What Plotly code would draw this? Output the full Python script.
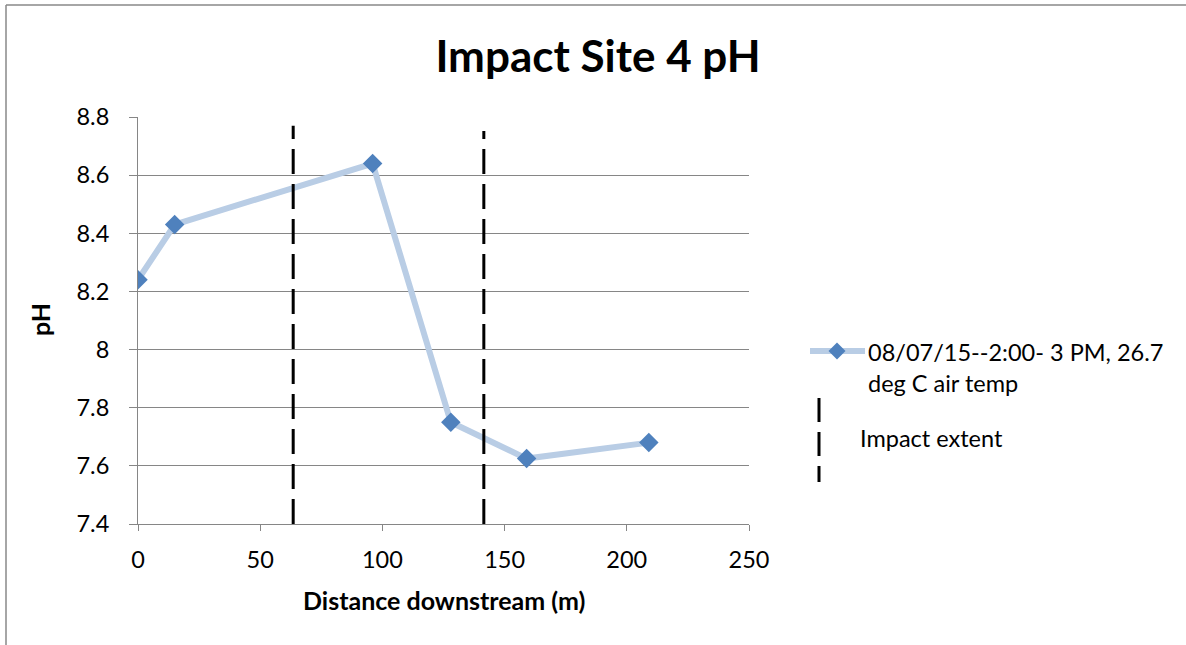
import plotly.graph_objects as go

# ---- data ----
distance_m = [0, 15, 96, 128, 159, 209]
ph_values = [8.24, 8.43, 8.64, 7.75, 7.625, 7.68]
series_name = "08/07/15--2:00- 3 PM, 26.7<br>deg C air temp"

impact_x = [63.5, 141.5]
impact_top = [8.77, 8.752]
impact_bottom = 7.4
impact_name = "Impact extent"

x_ticks = [0, 50, 100, 150, 200, 250]
y_ticks = [7.4, 7.6, 7.8, 8.0, 8.2, 8.4, 8.6, 8.8]
y_ticktext = ["7.4", "7.6", "7.8", "8", "8.2", "8.4", "8.6", "8.8"]

title_text = "Impact Site 4 pH"
x_title = "Distance downstream (m)"
y_title = "pH"

# ---- layout geometry (pixels) ----
W, H = 1186, 645
PL, PR, PT, PB = 138, 749, 117, 524
FONT = "Lato, 'Open Sans', 'DejaVu Sans', sans-serif"
GRID = "#868686"
LINE_BLUE = "#B9CDE5"
MARK_BLUE = "#4F81BD"
TXT = 23.5


def px(x):
    return x / W


def py(y):
    return 1 - y / H


fig = go.Figure()

fig.add_trace(go.Scatter(
    x=distance_m, y=ph_values, mode="lines+markers", name=series_name,
    line=dict(color=LINE_BLUE, width=6),
    marker=dict(symbol="diamond", size=15, color=MARK_BLUE,
                line=dict(width=0)),
    showlegend=False,
))

for xv, top in zip(impact_x, impact_top):
    fig.add_trace(go.Scatter(
        x=[xv, xv], y=[impact_bottom, top], mode="lines", name=impact_name,
        line=dict(color="black", width=3, dash="25px,10px"),
        showlegend=False, hoverinfo="skip",
    ))

shapes = []
# outer chart border (top and left visible)
shapes.append(dict(type="line", xref="paper", yref="paper",
                   x0=px(6), x1=px(W + 5), y0=py(5), y1=py(5),
                   line=dict(color="#888888", width=1.5)))
shapes.append(dict(type="line", xref="paper", yref="paper",
                   x0=px(6), x1=px(6), y0=py(5), y1=py(H + 5),
                   line=dict(color="#888888", width=1.5)))
# legend: series symbol
shapes.append(dict(type="line", xref="paper", yref="paper",
                   x0=px(810), x1=px(865), y0=py(351), y1=py(351),
                   line=dict(color=LINE_BLUE, width=6)))
d = 8.5
cx, cy = 837, 351
shapes.append(dict(type="path", xref="paper", yref="paper",
                   path=f"M {px(cx)} {py(cy - d)} L {px(cx + d)} {py(cy)} "
                        f"L {px(cx)} {py(cy + d)} L {px(cx - d)} {py(cy)} Z",
                   fillcolor=MARK_BLUE, line=dict(width=0)))
# legend: impact extent symbol
shapes.append(dict(type="line", xref="paper", yref="paper",
                   x0=px(819), x1=px(819), y0=py(398), y1=py(482),
                   line=dict(color="black", width=3, dash="24px,10px")))

annotations = [
    dict(text=series_name, xref="paper", yref="paper",
         x=px(866), y=py(367), xanchor="left", yanchor="middle",
         align="left", showarrow=False,
         font=dict(family=FONT, size=TXT, color="black")),
    dict(text=impact_name, xref="paper", yref="paper",
         x=px(858), y=py(438), xanchor="left", yanchor="middle",
         align="left", showarrow=False,
         font=dict(family=FONT, size=TXT, color="black")),
    dict(text=f"<b>{x_title}</b>", xref="paper", yref="paper",
         x=px(443.5), y=py(600), xanchor="center", yanchor="middle",
         showarrow=False, font=dict(family=FONT, size=25, color="black")),
    dict(text=f"<b>{y_title}</b>", xref="paper", yref="paper",
         x=px(40), y=py(320), xanchor="center", yanchor="middle",
         textangle=-90, showarrow=False,
         font=dict(family=FONT, size=25, color="black")),
]

fig.update_layout(
    width=W, height=H,
    margin=dict(l=0, r=0, t=0, b=0, pad=0, autoexpand=False),
    paper_bgcolor="white", plot_bgcolor="white",
    font=dict(family=FONT, size=TXT, color="black"),
    title=dict(text=f"<b>{title_text}</b>", x=px(598), y=py(57),
               xanchor="center", yanchor="middle",
               font=dict(family=FONT, size=44, color="black")),
    xaxis=dict(domain=[px(PL), px(PR)], range=[0, 250],
               tickvals=x_ticks, showgrid=False, zeroline=False,
               showline=True, linecolor=GRID, linewidth=1,
               ticks="outside", ticklen=6, tickcolor=GRID, tickwidth=1,
               ticklabelstandoff=9, automargin=False,
               tickfont=dict(family=FONT, size=TXT, color="black")),
    yaxis=dict(domain=[py(PB), py(PT)], range=[7.4, 8.8],
               tickvals=y_ticks, ticktext=y_ticktext,
               showgrid=True, gridcolor=GRID, gridwidth=1, zeroline=False,
               showline=True, linecolor=GRID, linewidth=1,
               ticks="outside", ticklen=8, tickcolor=GRID, tickwidth=1,
               ticklabelstandoff=15, automargin=False,
               tickfont=dict(family=FONT, size=TXT, color="black")),
    shapes=shapes,
    annotations=annotations,
    showlegend=False,
)

fig.write_html("out.html")
